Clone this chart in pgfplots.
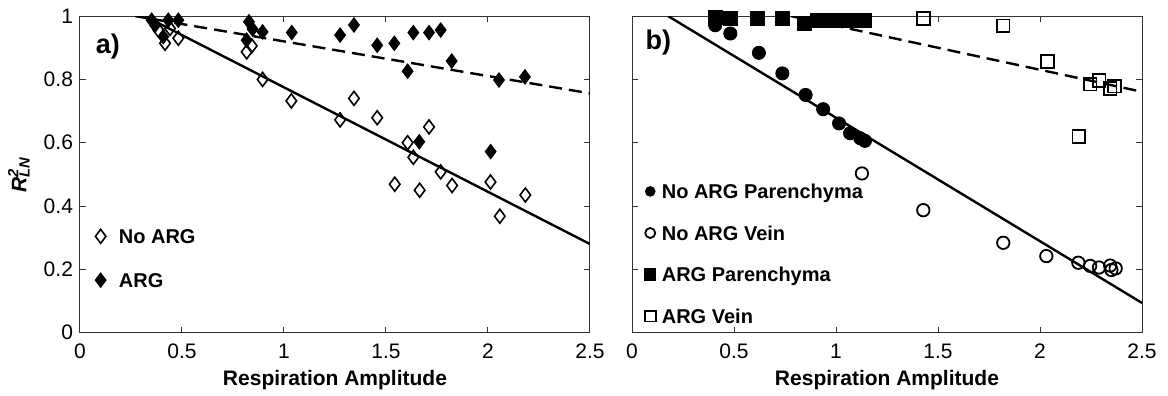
\documentclass[border=0pt]{standalone}
\usepackage{fontspec}
\setmainfont{Liberation Sans}
\usepackage{pgfplots}
\pgfplotsset{compat=1.18}

\definecolor{axisgray}{gray}{0.2}

% shared look of both panels
\pgfplotsset{
  respstyle/.style={
    scale only axis, width=255pt, height=158.3pt,
    xmin=0, xmax=2.5, ymin=0, ymax=1,
    xtick={0,0.5,1,1.5,2,2.5}, ytick={0,0.2,0.4,0.6,0.8,1},
    tick align=inside, major tick length=2.8pt,
    axis line style={axisgray, line width=0.5pt},
    every tick/.style={axisgray, line width=0.5pt},
    /pgf/number format/assume math mode=true,
    tick label style={font=\fontsize{10.5}{12}\selectfont},
    xticklabel style={yshift=-2pt},
    xlabel={Respiration Amplitude},
    xlabel style={font=\fontsize{10.5}{12}\selectfont\bfseries,
      at={(axis description cs:0.5,-0.15)}, anchor=center},
    legend cell align=left,
    legend style={draw=none, fill=none, inner xsep=0pt, inner ysep=0pt,
      anchor=north west,
      font=\fontsize{10}{11}\selectfont\bfseries,
      nodes={inner sep=0pt, text height=7.1pt, text depth=0pt}},
    legend image code/.code={\draw[#1] plot coordinates {(0pt,0pt)};},
  },
  fitline/.style={black, line width=1.2pt, forget plot},
  fitdash/.style={black, line width=1.2pt, dash pattern=on 6.5pt off 3.5pt, forget plot},
}

% panel a
\pgfplotstableread{
x y
0.384 0.956
0.417 0.914
0.482 0.930
0.441 0.961
0.817 0.887
0.842 0.906
0.895 0.800
1.036 0.732
1.275 0.672
1.343 0.740
1.457 0.679
1.606 0.600
1.634 0.554
1.711 0.650
1.768 0.508
1.543 0.469
1.665 0.450
1.824 0.465
2.012 0.476
2.058 0.368
2.183 0.435
}\noargA
\pgfplotstableread{
x y
0.351 0.987
0.368 0.971
0.408 0.935
0.433 0.987
0.482 0.987
0.828 0.982
0.817 0.924
0.846 0.959
0.895 0.950
1.038 0.948
1.275 0.940
1.343 0.972
1.457 0.908
1.541 0.914
1.606 0.826
1.634 0.948
1.663 0.603
1.711 0.948
1.768 0.956
1.822 0.858
2.013 0.572
2.054 0.798
2.181 0.808
}\argA

% panel b
\pgfplotstableread{
x y
0.408 0.971
0.482 0.945
0.622 0.884
0.737 0.819
0.851 0.751
0.937 0.706
1.015 0.661
1.069 0.630
1.119 0.614
1.142 0.606
}\noargPar
\pgfplotstableread{
x y
1.127 0.503
1.428 0.387
1.820 0.284
2.031 0.242
2.188 0.221
2.246 0.211
2.289 0.206
2.344 0.212
2.350 0.198
2.371 0.203
}\noargVein
\pgfplotstableread{
x y
0.408 0.995
0.482 0.993
0.614 0.993
0.737 0.993
0.846 0.977
0.909 0.987
0.966 0.987
1.024 0.987
1.073 0.987
1.119 0.987
1.142 0.987
}\argPar
\pgfplotstableread{
x y
1.429 0.993
1.819 0.969
2.036 0.856
2.191 0.619
2.246 0.785
2.290 0.796
2.344 0.772
2.366 0.779
}\argVein

\begin{document}
\begin{tikzpicture}
\useasboundingbox (-40pt,-31.65pt) rectangle (544pt,166.35pt);

\begin{axis}[respstyle, at={(0pt,0pt)}, anchor=south west,
  ylabel={\textit{R\rlap{\textsuperscript{2}}\textsubscript{LN}}},
  ylabel style={font=\fontsize{10.5}{12}\selectfont\bfseries,
    at={(axis description cs:-0.12,0.5)}, anchor=center, rotate=0},
  legend style={at={(axis description cs:0.0294,0.328)},
    row sep=14.8pt,
    /tikz/every odd column/.append style={column sep=6.5pt}},
]
\addplot[fitline] coordinates {(0.318,1.0) (2.5,0.28)};
\addplot[fitdash] coordinates {(0.27,1.0) (2.5,0.756)};
\addplot[only marks, mark=diamond, mark size=3.5pt, black,
  mark options={line width=0.8pt}] table {\noargA};
\addlegendentry{No ARG}
\addplot[only marks, mark=diamond*, mark size=3.5pt, black,
  mark options={line width=0.6pt, fill=black}] table {\argA};
\addlegendentry{ARG}
\node[font=\fontsize{13.5}{15}\selectfont\bfseries] at (axis cs:0.137,0.903) {a)};
\end{axis}

\begin{axis}[respstyle, at={(276pt,0pt)}, anchor=south west,
  yticklabels={},
  legend style={at={(axis description cs:0.024,0.47)},
    row sep=13.7pt,
    /tikz/every odd column/.append style={column sep=3pt}},
]
\addplot[fitline] coordinates {(0.177,1.0) (2.5,0.094)};
\addplot[fitdash] coordinates {(0.78,1.0) (2.5,0.761)};
\addplot[only marks, mark=*, mark size=3.25pt, black,
  mark options={line width=0.5pt, fill=black},
  legend image post style={mark size=2.4pt}] table {\noargPar};
\addlegendentry{No ARG Parenchyma}
\addplot[only marks, mark=o, mark size=3.1pt, black,
  mark options={line width=0.9pt},
  legend image post style={mark size=2.5pt}] table {\noargVein};
\addlegendentry{No ARG Vein}
\addplot[only marks, mark=square*, mark size=3.4pt, black,
  mark options={line width=0.5pt, fill=black},
  legend image post style={mark size=2.8pt}] table {\argPar};
\addlegendentry{ARG Parenchyma}
\addplot[only marks, mark=square, mark size=3.2pt, black,
  mark options={line width=0.9pt},
  legend image post style={mark size=2.7pt}] table {\argVein};
\addlegendentry{ARG Vein}
\node[font=\fontsize{13.5}{15}\selectfont\bfseries] at (axis cs:0.129,0.915) {b)};
\end{axis}
\end{tikzpicture}
\end{document}
